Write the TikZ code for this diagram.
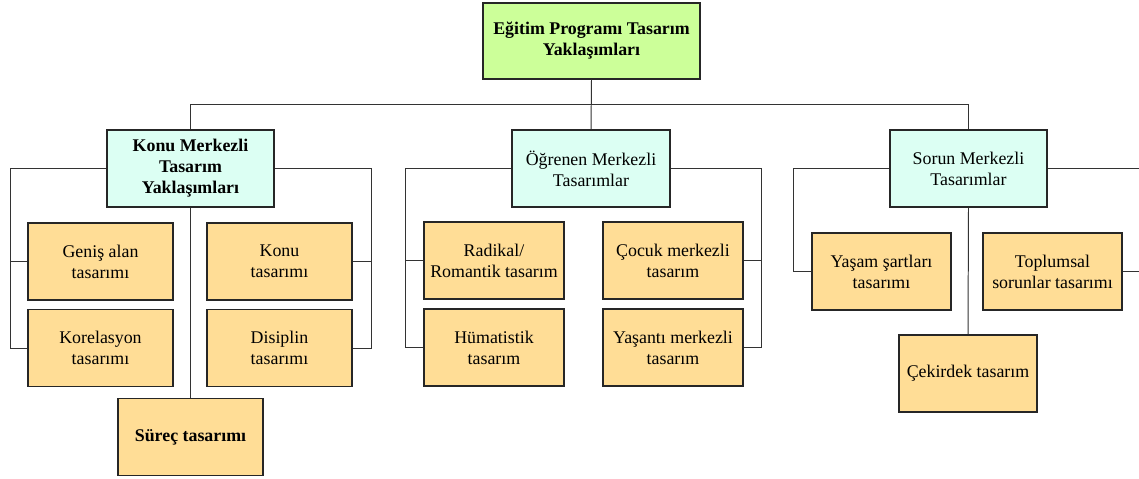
\documentclass[tikz,border=0pt]{standalone}
\usepackage{fontspec}
\setmainfont{Liberation Serif}
\usetikzlibrary{calc}
\definecolor{topgreen}{HTML}{CCFF99}
\definecolor{midcyan}{HTML}{DCFFF3}
\definecolor{leaforange}{HTML}{FFDD96}
\begin{document}
\begin{tikzpicture}[x=0.025cm,y=-0.025cm,
  font=\fontsize{12.7pt}{15pt}\selectfont,
  box/.style={draw=black!85,line width=0.9pt,align=center,inner sep=0pt},
  topbox/.style={box,fill=topgreen,minimum width=5.425cm,minimum height=1.9cm,font=\fontsize{12.7pt}{15pt}\selectfont\bfseries},
  midbox/.style={box,fill=midcyan,minimum height=1.925cm},
  leafbox/.style={box,fill=leaforange,minimum width=3.625cm,minimum height=1.925cm},
  link/.style={draw=black!80,line width=0.7pt}]
\useasboundingbox (0,0) rectangle (1139,479);
% top level
\node[topbox] (top) at (591.5,41) {Eğitim Programı Tasarım\\Yaklaşımları};
% second level
\node[midbox,minimum width=4.175cm,font=\fontsize{12.7pt}{15pt}\selectfont\bfseries] (konu) at (190.5,168.5) {Konu Merkezli\\Tasarım\\Yaklaşımları};
\node[midbox,minimum width=3.95cm] (ogr) at (591,168.5) {Öğrenen Merkezli\\Tasarımlar};
\node[midbox,minimum width=3.925cm] (sorun) at (968.5,168.5) {Sorun Merkezli\\Tasarımlar};
% konu merkezli
\node[leafbox] (genis) at (100.5,261.5) {Geniş alan\\tasarımı};
\node[leafbox] (korel) at (100.5,348) {Korelasyon\\tasarımı};
\node[leafbox] (konut) at (279.5,261.5) {Konu\\tasarımı};
\node[leafbox] (disip) at (279.5,348) {Disiplin\\tasarımı};
\node[leafbox,font=\fontsize{12.7pt}{15pt}\selectfont\bfseries] (surec) at (190.5,437) {Süreç tasarımı};
% ogrenen merkezli
\node[leafbox,minimum width=3.5cm] (radikal) at (494,260.5) {Radikal/\\Romantik tasarım};
\node[leafbox,minimum width=3.5cm] (humat) at (494,347.5) {Hümatistik\\tasarım};
\node[leafbox,minimum width=3.5cm] (cocuk) at (673,260.5) {Çocuk merkezli\\tasarım};
\node[leafbox,minimum width=3.5cm] (yasanti) at (673,347.5) {Yaşantı merkezli\\tasarım};
% sorun merkezli
\node[leafbox,minimum width=3.475cm] (yasam) at (881.5,271.5) {Yaşam şartları\\tasarımı};
\node[leafbox,minimum width=3.475cm] (toplum) at (1052.5,271.5) {Toplumsal\\sorunlar tasarımı};
\node[leafbox,minimum width=3.45cm] (cekirdek) at (968,373.5) {Çekirdek tasarım};
\coordinate (edgeA) at (1139,168.5);
\coordinate (edgeB) at (1139,271.5);

\draw[link] (top.south)--(ogr.north);
\draw[link] (konu.north)--++(0,-25)-|(sorun.north);
\draw[link] (konu.west)-|($(korel.west)+(-17,0)$)--(korel.west);
\draw[link] (genis.west)--++(-17,0);
\draw[link] (konu.east)-|($(disip.east)+(19,0)$)--(disip.east);
\draw[link] (konut.east)--++(19,0);
\draw[link] (konu.south)--(surec.north);
\draw[link] (ogr.west)-|($(humat.west)+(-18,0)$)--(humat.west);
\draw[link] (radikal.west)--++(-18,0);
\draw[link] (ogr.east)-|($(yasanti.east)+(18,0)$)--(yasanti.east);
\draw[link] (cocuk.east)--++(18,0);
\draw[link] (sorun.west)-|($(yasam.west)+(-18,0)$)--(yasam.west);
\draw[link] (sorun.east)--(edgeA);
\draw[link] (toplum.east)--(edgeB);
\draw[link] (sorun.south)--(cekirdek.north);
\end{tikzpicture}
\end{document}
